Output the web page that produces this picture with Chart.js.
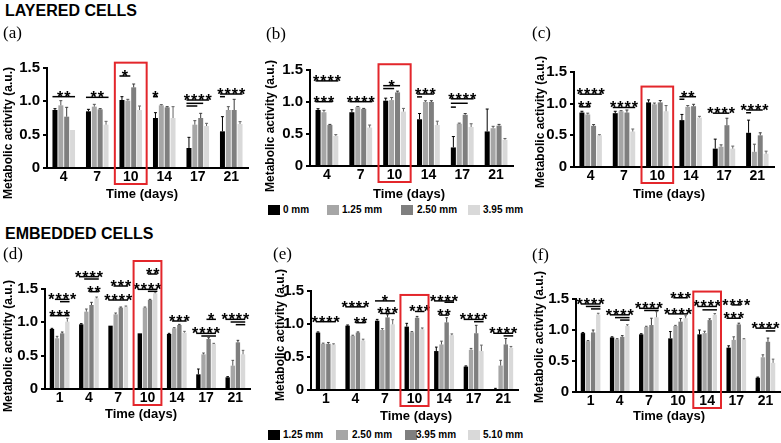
<!DOCTYPE html>
<html lang="en">
<head>
<meta charset="UTF-8">
<title>Metabolic activity</title>
<script src="https://cdn.jsdelivr.net/npm/chart.js"></script>
<style>
  body { margin: 0; width: 781px; height: 443px; position: relative; overflow: hidden; background: #fff; font-family: "Liberation Sans", Arial, sans-serif; color: #000; }
  canvas { position: absolute; }
  .txt { position: absolute; line-height: 1; white-space: nowrap; }
  .grupo { font-weight: bold; font-size: 16px; }
  .letra { font-family: "Liberation Serif", serif; font-size: 17px; }
  .eixoX { font-weight: bold; font-size: 13px; transform: translate(-50%, -50%); }
  .eixoY { font-weight: bold; font-size: 12px; transform: translate(-50%, -50%) rotate(-90deg); }
  .quad { position: absolute; width: 12px; height: 10px; }
  .leg { font-weight: bold; font-size: 10px; transform: translateY(-50%); }
</style>
</head>
<body>
<script>
// categorias e series
const diasLayered = ['4', '7', '10', '14', '17', '21'];
const diasEmbedded = ['1', '4', '7', '10', '14', '17', '21'];
const seriesLayered = ['0 mm', '1.25 mm', '2.50 mm', '3.95 mm'];
const seriesEmbedded = ['1.25 mm', '2.50 mm', '3.95 mm', '5.10 mm'];
const ticksY = [0, 0.5, 1.0, 1.5];

// (a) layered - medias e erros (uma linha por serie)
const valoresA = [
  [0.87, 0.85, 1.02, 0.75, 0.30, 0.55],
  [0.94, 0.92, 1.01, 0.94, 0.65, 0.87],
  [0.77, 0.88, 1.21, 0.91, 0.75, 0.87],
  [0.57, 0.65, 0.87, 0.75, 0.63, 0.66]
];
const errosA = [
  [0.02, 0.03, 0.05, 0.08, 0.16, 0.22],
  [0.07, 0.035, 0.02, 0.01, 0.06, 0.05],
  [0.14, 0.01, 0.05, 0.01, 0.07, 0.16],
  [0.00, 0.05, 0.06, 0.17, 0.04, 0.035]
];
// (b)
const valoresB = [
  [0.875, 0.84, 1.02, 0.73, 0.29, 0.54],
  [0.84, 0.92, 1.03, 1.00, 0.66, 0.59],
  [0.64, 0.89, 1.15, 1.00, 0.80, 0.63],
  [0.47, 0.60, 0.85, 0.64, 0.61, 0.41]
];
const errosB = [
  [0.02, 0.04, 0.04, 0.09, 0.17, 0.35],
  [0.03, 0.01, 0.04, 0.02, 0.01, 0.03],
  [0.01, 0.01, 0.02, 0.02, 0.02, 0.02],
  [0.02, 0.04, 0.05, 0.06, 0.05, 0.02]
];
// (c)
const valoresC = [
  [0.86, 0.85, 1.02, 0.74, 0.29, 0.54],
  [0.83, 0.88, 0.99, 0.95, 0.32, 0.24],
  [0.65, 0.86, 1.02, 0.96, 0.66, 0.50],
  [0.50, 0.56, 0.88, 0.78, 0.29, 0.21]
];
const errosC = [
  [0.02, 0.03, 0.04, 0.09, 0.15, 0.20],
  [0.02, 0.01, 0.02, 0.02, 0.03, 0.12],
  [0.02, 0.04, 0.03, 0.03, 0.11, 0.04],
  [0.01, 0.04, 0.09, 0.02, 0.04, 0.04]
];
// (d) embedded
const valoresD = [
  [0.90, 0.97, 0.95, 0.835, 0.825, 0.22, 0.175],
  [0.76, 1.16, 1.12, 1.22, 0.91, 0.52, 0.35],
  [0.835, 1.26, 1.22, 1.335, 0.96, 0.75, 0.70],
  [1.01, 1.36, 1.235, 1.435, 0.845, 0.675, 0.52]
];
const errosD = [
  [0.01, 0.01, 0.00, 0.00, 0.01, 0.08, 0.01],
  [0.03, 0.04, 0.02, 0.01, 0.01, 0.02, 0.08],
  [0.02, 0.04, 0.01, 0.01, 0.01, 0.02, 0.03],
  [0.05, 0.02, 0.01, 0.02, 0.02, 0.01, 0.06]
];
// (e)
const valoresE = [
  [0.87, 0.975, 1.05, 0.96, 0.59, 0.355, 0.015],
  [0.70, 0.82, 0.91, 0.875, 0.69, 0.61, 0.37],
  [0.70, 0.87, 1.10, 1.095, 1.025, 0.86, 0.69],
  [0.69, 0.75, 0.995, 0.92, 0.83, 0.59, 0.64]
];
const errosE = [
  [0.01, 0.01, 0.02, 0.05, 0.06, 0.01, 0.01],
  [0.01, 0.01, 0.02, 0.01, 0.05, 0.02, 0.08],
  [0.02, 0.01, 0.04, 0.02, 0.07, 0.12, 0.09],
  [0.01, 0.02, 0.07, 0.02, 0.02, 0.09, 0.02]
];
// (f)
const valoresF = [
  [0.95, 0.88, 0.93, 0.865, 0.93, 0.715, 0.23],
  [0.82, 0.85, 1.05, 1.065, 0.95, 0.84, 0.56],
  [0.96, 0.89, 1.08, 1.135, 1.16, 1.09, 0.81],
  [1.25, 1.065, 1.205, 1.19, 1.245, 0.85, 0.47]
];
const errosF = [
  [0.01, 0.01, 0.01, 0.11, 0.07, 0.03, 0.01],
  [0.01, 0.01, 0.01, 0.01, 0.03, 0.05, 0.04],
  [0.04, 0.02, 0.11, 0.05, 0.02, 0.02, 0.06],
  [0.02, 0.02, 0.09, 0.04, 0.02, 0.01, 0.06]
];

// significancia: [categoria, texto, [[barra inicial, barra final, nivel], ...]]
const sigA = [
  [0, '**', [[0, 3, 1.07]]],
  [1, '**', [[0, 3, 1.06]]],
  [2, '*', [[0, 1, 1.38]]],
  [3, '*', [[0, 0, 1.07]]],
  [4, '****', [[0, 3, 1.02], [0, 2, 0.97], [0, 1, 0.93]]],
  [5, '****', [[0, 3, 1.11], [0, 0, 1.07]]]
];
const sigB = [
  [0, '****', [[0, 3, 1.33]]],
  [0, '***', [[0, 2, 1.005]]],
  [1, '****', [[0, 3, 1.005]]],
  [2, '*', [[0, 2, 1.255], [0, 1, 1.21]]],
  [3, '***', [[0, 2, 1.125], [0, 0, 1.08]]],
  [4, '****', [[0, 3, 1.05], [0, 2, 0.98], [0, 0, 0.92]]]
];
const sigC = [
  [0, '****', [[0, 3, 1.15]]],
  [0, '**', [[0, 1, 0.95]]],
  [1, '****', [[0, 3, 0.94]]],
  [3, '**', [[0, 2, 1.11], [0, 0, 1.07]]],
  [4, '****', [[0, 2, 0.85]]],
  [5, '****', [[0, 2, 0.90], [0, 0, 0.857]]]
];
const sigD = [
  [0, '****', [[1, 3, 1.345], [2, 3, 1.31]]],
  [0, '***', [[0, 3, 1.10]]],
  [1, '****', [[0, 3, 1.685], [1, 3, 1.65]]],
  [1, '**', [[2, 3, 1.46]]],
  [2, '***', [[1, 3, 1.545]]],
  [2, '****', [[0, 3, 1.335]]],
  [3, '**', [[2, 3, 1.725]]],
  [3, '****', [[0, 3, 1.495], [2, 3, 1.465]]],
  [4, '***', [[1, 3, 1.02]]],
  [5, '*', [[2, 3, 1.045]]],
  [5, '****', [[0, 3, 0.835], [1, 3, 0.795]]],
  [6, '****', [[0, 3, 1.045], [1, 3, 1.005], [2, 3, 0.965]]]
];
const sigE = [
  [0, '****', [[0, 3, 1.035]]],
  [1, '****', [[0, 3, 1.26]]],
  [1, '**', [[2, 3, 1.02]]],
  [2, '*', [[0, 3, 1.35]]],
  [2, '***', [[1, 3, 1.16]]],
  [3, '***', [[2, 3, 1.19]]],
  [4, '****', [[0, 3, 1.35], [2, 3, 1.33]]],
  [4, '**', [[1, 2, 1.135]]],
  [5, '****', [[0, 3, 1.07], [2, 3, 1.035]]],
  [6, '****', [[0, 3, 0.86], [2, 3, 0.82]]]
];
const sigF = [
  [0, '****', [[0, 3, 1.42], [1, 3, 1.38], [2, 3, 1.34]]],
  [1, '****', [[0, 3, 1.245], [1, 3, 1.20], [2, 3, 1.16]]],
  [2, '****', [[0, 3, 1.35], [1, 3, 1.315]]],
  [3, '***', [[1, 3, 1.52]]],
  [3, '****', [[0, 3, 1.26]]],
  [4, '****', [[0, 3, 1.38], [1, 3, 1.325]]],
  [5, '****', [[1, 2, 1.405]]],
  [5, '***', [[0, 2, 1.19]]],
  [6, '****', [[0, 3, 1.03], [2, 3, 0.985]]]
];

// estilo
const cores = ['#000000', '#a6a6a6', '#7f7f7f', '#d9d9d9'];
const coresErro = ['#000000', '#555555', '#3a3a3a', '#666666'];
const vermelho = '#e3262b';

// posicoes de cada painel (area do grafico em px da pagina)
const paineis = [
  { letra: '(a)', dias: diasLayered, series: seriesLayered, valores: valoresA, erros: errosA, sig: sigA, destaque: 2, topoCaixa: 1.58,
    L: 47, R: 248, T: 68, B: 168, letraPos: [3, 24], tituloY: [8, 133], tituloX: [142, 193] },
  { letra: '(b)', dias: diasLayered, series: seriesLayered, valores: valoresB, erros: errosB, sig: sigB, destaque: 2, topoCaixa: 1.59,
    L: 310, R: 513, T: 70, B: 166, letraPos: [266, 25], tituloY: [270, 126], tituloX: [409, 193] },
  { letra: '(c)', dias: diasLayered, series: seriesLayered, valores: valoresC, erros: errosC, sig: sigC, destaque: 2, topoCaixa: 1.27,
    L: 574, R: 774, T: 72, B: 167, letraPos: [532, 24], tituloY: [540, 122], tituloX: [669, 193] },
  { letra: '(d)', dias: diasEmbedded, series: seriesEmbedded, valores: valoresD, erros: errosD, sig: sigD, destaque: 3, topoCaixa: 1.92,
    L: 45, R: 250, T: 289, B: 389, letraPos: [3, 245], tituloY: [8, 346], tituloX: [141, 413] },
  { letra: '(e)', dias: diasEmbedded, series: seriesEmbedded, valores: valoresE, erros: errosE, sig: sigE, destaque: 3, topoCaixa: 1.44,
    L: 311, R: 518, T: 291, B: 390, letraPos: [273, 245], tituloY: [280, 335], tituloX: [416, 415] },
  { letra: '(f)', dias: diasEmbedded, series: seriesEmbedded, valores: valoresF, erros: errosF, sig: sigF, destaque: 4, topoCaixa: 1.62,
    L: 576, R: 780, T: 299, B: 392, letraPos: [532, 246], tituloY: [539, 337], tituloX: [669, 415] }
];

const legendas = [
  { series: seriesLayered, y: 210, quadX: [268, 327, 401, 468], textoX: [283, 342, 417, 483] },
  { series: seriesEmbedded, y: 435, quadX: [268, 336, 405, 468], textoX: [283, 352, 416, 483] }
];

function texto(cls, conteudo, x, y) {
  const d = document.createElement('div');
  d.className = 'txt ' + cls;
  d.textContent = conteudo;
  d.style.left = x + 'px';
  d.style.top = y + 'px';
  document.body.appendChild(d);
  return d;
}

texto('grupo', 'LAYERED CELLS', 5, 3);
texto('grupo', 'EMBEDDED CELLS', 5, 226);

legendas.forEach(function (lg) {
  lg.series.forEach(function (s, k) {
    const q = document.createElement('div');
    q.className = 'quad';
    q.style.left = lg.quadX[k] + 'px';
    q.style.top = (lg.y - 5) + 'px';
    q.style.background = cores[k];
    document.body.appendChild(q);
    texto('leg', s, lg.textoX[k], lg.y);
  });
});

// barras de erro, linhas de significancia e caixa vermelha
const extras = {
  id: 'extras',
  afterDatasetsDraw(chart) {
    const ctx = chart.ctx;
    const ys = chart.scales.y;
    chart.data.datasets.forEach(function (ds, d) {
      const meta = chart.getDatasetMeta(d);
      meta.data.forEach(function (bar, i) {
        const e = ds.erros[i];
        if (!e) return;
        const yt = ys.getPixelForValue(ds.data[i] + e);
        ctx.save();
        ctx.strokeStyle = ds.corErro;
        ctx.lineWidth = 1;
        ctx.beginPath();
        ctx.moveTo(bar.x, bar.y);
        ctx.lineTo(bar.x, yt);
        ctx.moveTo(bar.x - bar.width * 0.3, yt);
        ctx.lineTo(bar.x + bar.width * 0.3, yt);
        ctx.stroke();
        ctx.restore();
      });
    });
  },
  afterDraw(chart, args, opts) {
    const ctx = chart.ctx;
    const xs = chart.scales.x, ys = chart.scales.y;
    ctx.save();
    ctx.strokeStyle = '#000';
    ctx.fillStyle = '#000';
    ctx.lineWidth = 1.5;
    ctx.font = 'bold 16px "Liberation Sans"';
    ctx.letterSpacing = '1px';
    ctx.textAlign = 'center';
    ctx.textBaseline = 'alphabetic';
    opts.sig.forEach(function (s) {
      const cat = s[0];
      let primeira = null;
      s[2].forEach(function (ln) {
        const b0 = chart.getDatasetMeta(ln[0]).data[cat];
        const b1 = chart.getDatasetMeta(ln[1]).data[cat];
        const x0 = b0.x - b0.width / 2, x1 = b1.x + b1.width / 2;
        const yy = ys.getPixelForValue(ln[2]);
        ctx.beginPath();
        ctx.moveTo(x0, yy);
        ctx.lineTo(x1, yy);
        ctx.stroke();
        if (!primeira) primeira = [(x0 + x1) / 2, yy];
      });
      ctx.fillText(s[1], primeira[0] + 0.5, primeira[1] + 6);
    });
    // caixa de destaque
    const cx = xs.getPixelForValue(opts.destaque);
    const passo = (xs.right - xs.left) / chart.data.labels.length;
    const w = passo * 0.95;
    const yt = ys.getPixelForValue(opts.topoCaixa);
    ctx.strokeStyle = vermelho;
    ctx.lineWidth = 2;
    ctx.strokeRect(cx - w / 2, yt, w, ys.bottom + 16 - yt);
    ctx.restore();
  }
};

paineis.forEach(function (p) {
  const yw = 40, padTop = 40, padRight = 10, xh = 22;
  const cv = document.createElement('canvas');
  const W = yw + (p.R - p.L) + padRight;
  const H = padTop + (p.B - p.T) + xh;
  cv.width = W;
  cv.height = H;
  cv.style.left = (p.L - yw) + 'px';
  cv.style.top = (p.T - padTop) + 'px';
  document.body.appendChild(cv);

  texto('letra', p.letra, p.letraPos[0], p.letraPos[1]);
  texto('eixoY', 'Metabolic activity (a.u.)', p.tituloY[0], p.tituloY[1]);
  texto('eixoX', 'Time (days)', p.tituloX[0], p.tituloX[1]);

  new Chart(cv, {
    type: 'bar',
    data: {
      labels: p.dias,
      datasets: p.valores.map(function (v, k) {
        return {
          label: p.series[k],
          data: v,
          erros: p.erros[k],
          corErro: coresErro[k],
          backgroundColor: cores[k],
          categoryPercentage: 0.7,
          barPercentage: 0.85
        };
      })
    },
    options: {
      responsive: false,
      animation: false,
      devicePixelRatio: 1,
      layout: { padding: { top: padTop, right: padRight, left: 0, bottom: 0 } },
      plugins: {
        legend: { display: false },
        tooltip: { enabled: false },
        extras: { sig: p.sig, destaque: p.destaque, topoCaixa: p.topoCaixa }
      },
      scales: {
        x: {
          grid: { display: true, drawOnChartArea: false, drawTicks: false },
          border: { color: '#000', width: 2 },
          ticks: { color: '#000', font: { family: 'Liberation Sans', weight: 'bold', size: 14 }, padding: 1, maxRotation: 0 },
          afterFit: function (s) { s.height = xh; }
        },
        y: {
          min: ticksY[0],
          max: ticksY[ticksY.length - 1],
          grid: { display: true, drawOnChartArea: false, drawTicks: true, tickLength: 4, color: '#000', lineWidth: 2 },
          border: { color: '#000', width: 2 },
          afterBuildTicks: function (s) { s.ticks = ticksY.map(function (v) { return { value: v }; }); },
          ticks: {
            color: '#000', font: { family: 'Liberation Sans', weight: 'bold', size: 15 }, padding: 3,
            callback: function (v) { return v === 0 ? '0' : v.toFixed(1); }
          },
          afterFit: function (s) { s.width = yw; }
        }
      }
    },
    plugins: [extras]
  });
});
</script>
</body>
</html>
